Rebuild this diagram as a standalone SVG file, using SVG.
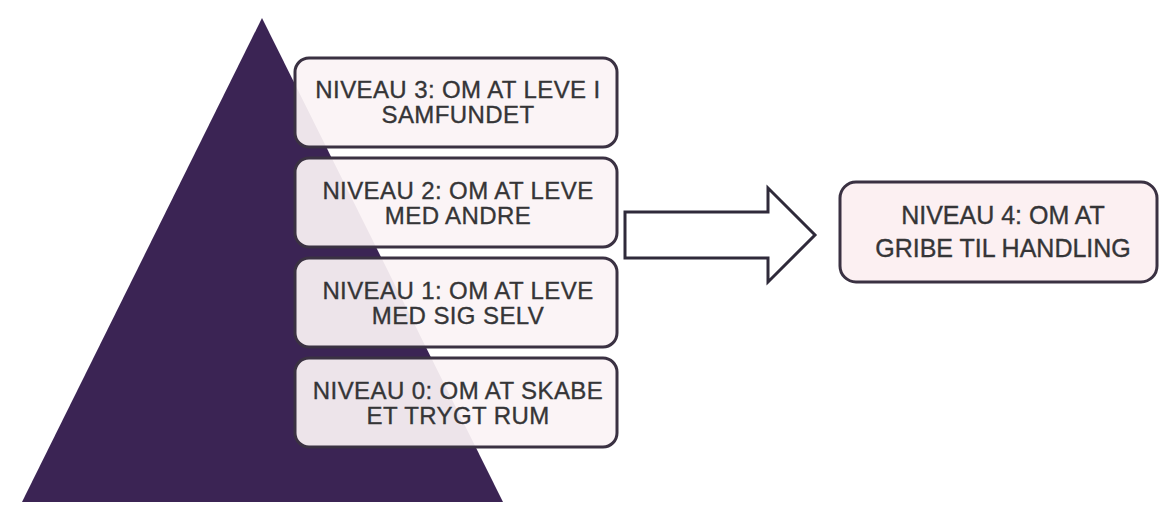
<svg xmlns="http://www.w3.org/2000/svg" width="1160" height="509" viewBox="0 0 1160 509">
<style>
.box{fill:#fbf3f5;fill-opacity:0.93;stroke:#3a3142;stroke-width:3}
.box4{fill:#fcf0f2;stroke:#3a3142;stroke-width:3}
.t{font-family:"Liberation Sans",Arial,sans-serif;font-size:24px;fill:#353537;stroke:#353537;stroke-width:0.35;text-anchor:middle;letter-spacing:0.4px}
.t4{font-family:"Liberation Sans",Arial,sans-serif;font-size:25px;fill:#353537;stroke:#353537;stroke-width:0.35;text-anchor:middle}
</style>
<rect width="1160" height="509" fill="#ffffff"/>
<g id="pyramid">
<polygon points="262,18 503,502 22,502" fill="#3b2454"/>
</g>
<g id="level3">
<rect class="box" x="295" y="58" width="322" height="89" rx="14"/>
<text class="t" x="458" y="98">NIVEAU 3: OM AT LEVE I</text>
<text class="t" x="458" y="123">SAMFUNDET</text>
</g>
<g id="level2">
<rect class="box" x="295" y="158" width="322" height="89" rx="14"/>
<text class="t" x="458" y="199">NIVEAU 2: OM AT LEVE</text>
<text class="t" x="458" y="224">MED ANDRE</text>
</g>
<g id="level1">
<rect class="box" x="295" y="258" width="322" height="89" rx="14"/>
<text class="t" x="458" y="299">NIVEAU 1: OM AT LEVE</text>
<text class="t" x="458" y="324">MED SIG SELV</text>
</g>
<g id="level0">
<rect class="box" x="295" y="358" width="322" height="89" rx="14"/>
<text class="t" x="458" y="399">NIVEAU 0: OM AT SKABE</text>
<text class="t" x="458" y="424">ET TRYGT RUM</text>
</g>
<g id="connectors">
<polygon points="625,212 768,212 768,188 815,235 768,282 768,258 625,258" fill="#ffffff" stroke="#2f2a3a" stroke-width="3" stroke-linejoin="miter"/>
</g>
<g id="level4">
<rect class="box4" x="840" y="182" width="317" height="100" rx="16"/>
<text class="t4" x="1003" y="224">NIVEAU 4: OM AT</text>
<text class="t4" x="1003" y="257">GRIBE TIL HANDLING</text>
</g>
</svg>
